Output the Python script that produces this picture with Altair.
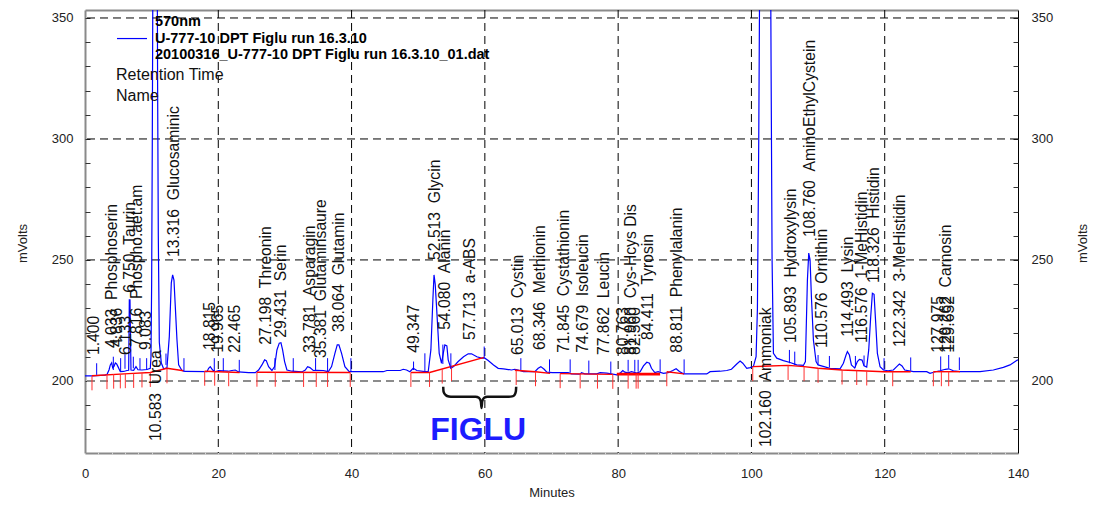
import altair as alt
import pandas as pd

# ---------------- data ----------------
trace_t = [0.0, 1.0, 1.7, 3.0, 3.3, 3.6, 3.8, 4.0, 4.15, 4.35, 4.55, 4.75, 4.95, 5.3, 5.8, 6.3, 6.55,
           6.65, 6.75, 6.9, 7.3, 7.65, 7.95, 8.55, 9.3, 9.8, 9.9, 10.0, 10.1, 10.2, 10.583, 10.8,
           10.9, 11.0, 11.15, 11.45, 11.8, 12.3, 12.65, 12.95, 13.15, 13.35, 13.55, 13.8, 14.05,
           14.55, 15.0, 18.3, 18.55, 18.8, 19.15, 19.55, 20.05, 21.5, 22.05, 22.55, 23.05, 24.55,
           25.55, 26.05, 26.55, 26.95, 27.2, 27.55, 28.05, 28.45, 28.8, 29.15, 29.4, 29.65, 29.95,
           30.3, 31.05, 32.55, 33.05, 33.4, 33.75, 34.25, 34.75, 35.75, 36.5, 37.0, 37.5, 37.85,
           38.1, 38.5, 39.0, 39.65, 44.75, 45.3, 47.3, 47.75, 48.25, 48.75, 49.25, 49.8, 51.0,
           51.5, 51.9, 52.2, 52.37, 52.55, 52.75, 53.15, 53.5, 53.8, 54.0, 54.3, 54.5, 54.9, 55.3,
           56.0, 56.8, 57.5, 58.0, 58.8, 59.5, 60.0, 60.5, 61.3, 62.0, 62.8, 64.0, 64.5, 65.0,
           65.8, 67.5, 68.0, 68.4, 68.9, 69.3, 70.1, 72.5, 73.0, 74.3, 74.5, 75.0, 76.8, 77.3,
           78.3, 79.8, 80.3, 80.7, 81.0, 81.5, 82.0, 82.8, 83.3, 83.8, 84.3, 84.7, 85.0, 85.5,
           86.0, 86.8, 87.5, 88.2, 88.7, 89.2, 89.8, 93.3, 93.8, 95.3, 96.3, 97.0, 97.8, 98.3,
           98.7, 99.3, 99.8, 100.3, 100.7, 100.9, 101.1, 101.3, 102.16, 102.8, 102.95, 103.1,
           103.3, 103.8, 104.8, 105.8, 106.8, 107.8, 108.1, 108.4, 108.6, 108.8, 109.0, 109.3,
           109.7, 110.0, 110.5, 111.8, 113.3, 113.8, 114.2, 114.4, 114.7, 115.0, 115.5, 115.9,
           116.2, 116.6, 116.9, 117.3, 117.6, 117.9, 118.15, 118.4, 118.65, 118.9, 119.3, 119.8,
           120.5, 121.3, 121.8, 122.2, 122.6, 123.0, 124.3, 126.3, 126.8, 127.6, 128.3, 129.1,
           129.6, 130.3, 131.3, 134.3, 136.3, 137.8, 138.8, 139.8, 140.0]
trace_v = [202.1, 202.1, 202.2, 202.4, 202.6, 204.5, 206.6, 207.5, 205.4, 206.0, 207.4, 207.0, 205.9,
           203.8, 203.9, 204.3, 204.4, 233.5, 233.5, 204.5, 204.4, 205.9, 204.6, 204.5, 204.7, 205.2,
           210.0, 240.0, 300.0, 380.0, 480.0, 400.0, 320.0, 260.0, 216.0, 207.4, 205.0, 205.4, 218.3,
           240.5, 243.8, 241.7, 230.7, 217.0, 206.6, 204.3, 203.9, 203.8, 205.2, 205.9, 204.5, 203.8,
           204.3, 204.0, 204.3, 204.5, 203.7, 203.4, 203.4, 204.5, 206.6, 208.7, 208.4, 205.9, 204.3,
           205.9, 212.8, 215.6, 215.8, 212.8, 208.0, 204.5, 204.0, 203.7, 204.5, 205.9, 205.5, 204.3,
           204.4, 204.3, 203.8, 205.9, 211.4, 214.9, 214.9, 211.4, 205.9, 203.8, 203.8, 204.3, 204.3,
           204.8, 204.5, 203.8, 205.2, 204.3, 203.8, 203.8, 212.8, 233.5, 243.8, 240.0, 230.7, 211.4,
           207.3, 212.0, 214.9, 214.5, 208.7, 205.2, 205.9, 208.0, 210.0, 211.2, 211.2, 210.0, 209.4,
           209.4, 208.4, 206.6, 205.2, 205.0, 204.5, 204.8, 204.5, 203.8, 203.8, 205.2, 205.9, 204.8,
           203.6, 203.4, 203.4, 202.9, 202.8, 203.4, 202.9, 202.9, 203.4, 203.2, 202.5, 203.2, 204.3,
           203.6, 203.3, 203.8, 203.2, 203.8, 206.2, 207.7, 207.3, 205.2, 203.4, 203.8, 203.1, 203.4,
           204.3, 205.0, 203.9, 202.9, 202.9, 203.8, 204.0, 204.3, 204.8, 207.0, 208.2, 207.3, 205.2,
           205.5, 206.0, 210.0, 230.0, 300.0, 400.0, 520.0, 420.0, 330.0, 250.0, 211.4, 209.4, 208.4,
           207.6, 206.6, 206.4, 208.0, 241.7, 252.8, 250.0, 234.8, 216.9, 208.0, 206.6, 206.2, 205.2,
           205.0, 207.3, 210.7, 212.1, 210.7, 206.6, 205.3, 208.0, 208.9, 208.6, 206.2, 205.7, 212.8,
           226.6, 236.2, 235.8, 223.8, 211.4, 205.9, 204.5, 204.2, 204.5, 205.9, 207.0, 206.2, 204.5,
           203.8, 203.8, 203.1, 203.8, 204.2, 204.8, 205.0, 204.2, 203.8, 203.8, 204.5, 205.6, 206.6,
           208.4, 208.7]

# red integration baselines (segment id, time, value)
base_s = [1, 1, 1, 1, 1, 2, 2, 3, 3, 4, 4, 4, 5, 5, 5, 6, 6, 7, 7, 8, 8,
          9, 9, 9, 9, 9, 9, 9, 9, 9, 10, 10]
base_t = [1.05, 6.55, 9.8, 12.3, 14.8, 17.96, 23.2, 25.8, 39.8, 48.9, 51.7, 59.9, 64.5, 67.6, 69.8,
          71.3, 79.2, 79.8, 86.3, 87.3, 89.9,
          100.2, 105.5, 107.9, 110.0, 113.6, 117.3, 119.9, 121.2, 123.9, 127.3, 131.3]
base_v = [202.1, 203.0, 203.5, 205.2, 204.2, 204.0, 203.5, 203.6, 203.5, 203.5, 203.5, 209.7, 204.4,
          203.8, 203.1, 203.0, 202.7, 202.8, 202.8, 203.8, 202.9,
          205.9, 206.4, 205.9, 205.2, 204.5, 204.1, 203.8, 203.8, 203.8, 203.8, 203.8]

# red peak-start/stop markers (time, baseline value)
rtick_t = [1.05, 3.3, 4.3, 5.3, 6.05, 7.3, 8.55, 9.8, 12.3, 17.96, 19.46, 21.56, 25.8, 28.55, 32.8,
           34.7, 36.4, 39.8, 48.9, 51.7, 53.6, 55.0, 64.7, 67.6, 71.3, 74.3, 76.9, 79.2, 81.5, 82.7,
           83.0, 87.3, 100.2, 105.5, 107.9, 110.0, 113.6, 115.8, 117.3, 121.2, 127.3, 128.5, 129.6]
rtick_v = [202.1, 202.6, 202.8, 202.9, 203.0, 203.1, 203.3, 203.5, 205.0, 204.0, 204.0, 203.8, 203.6,
           203.6, 203.5, 203.5, 203.5, 203.5, 203.5, 203.5, 204.9, 205.9, 204.3, 203.8, 203.0, 202.9,
           202.8, 202.7, 202.8, 202.8, 202.8, 203.8, 205.9, 206.4, 205.9, 205.2, 204.5, 204.3, 204.1,
           203.8, 203.8, 203.8, 203.8]

# blue peak-end markers (time, low, high)
btick_t = [1.75, 4.25, 5.35, 6.0, 7.25, 8.25, 9.25, 12.15, 14.85, 19.4, 20.75, 23.15, 28.5, 31.25,
           34.6, 36.4, 39.9, 49.3, 51.0, 53.7, 54.9, 59.9, 65.4, 69.7, 72.8, 75.6, 78.9, 81.5, 82.5,
           83.0, 86.3, 89.9, 105.7, 106.5, 110.0, 111.7, 115.6, 116.9, 119.9, 123.9, 128.4, 129.6,
           131.2]
btick_lo = [202.5, 204.5, 203.8, 205.0, 205.2, 204.5, 204.5, 206.6, 203.8, 204.0, 204.0, 203.8, 204.5,
            204.0, 204.3, 204.0, 203.8, 204.5, 203.8, 207.0, 205.2, 209.4, 204.5, 203.8, 203.4, 203.1,
            203.1, 203.8, 203.8, 203.8, 203.8, 203.1, 207.3, 206.6, 206.6, 205.6, 205.6, 206.2, 204.5,
            204.2, 204.5, 205.2, 204.5]
btick_hi = [207.3, 210.0, 209.4, 211.0, 210.0, 209.4, 209.4, 211.3, 209.4, 209.4, 209.4, 208.7, 209.4,
            209.4, 209.4, 209.4, 209.4, 208.0, 211.4, 215.0, 211.4, 214.2, 209.4, 208.9, 208.9, 208.4,
            208.0, 208.7, 208.7, 208.7, 208.9, 208.9, 212.8, 212.1, 210.7, 210.3, 210.3, 210.5, 209.4,
            209.7, 210.1, 210.7, 209.7]

# peak annotations
lab_rt = ["1.400", "4.033", "4.836", "6.133", "6.750", "7.816", "9.083", "10.583", "13.316",
          "18.815", "19.965", "22.465", "27.198", "29.431", "33.781", "35.381", "38.064", "49.347",
          "52.513", "54.080", "57.713", "65.013", "68.346", "71.845", "74.679", "77.862", "80.763",
          "81.960", "82.560", "84.411", "88.811", "102.160", "105.893", "108.760", "110.576",
          "114.493", "116.576", "118.326", "122.342", "127.975", "129.262", "129.652"]
lab_name = ["", "Phosphoserin", "", "", "Taurin", "Phospho.aet.am", "", "Urea", "Glucosaminic",
            "", "", "", "Threonin", "Serin", "Asparagin", "Glutaminsaure", "Glutamin", "",
            "Glycin", "Alanin", "a-ABS", "Cystin", "Methionin", "Cystathionin", "Isoleucin", "Leucin",
            "", "Cys-Hcys Dis", "", "Tyrosin", "Phenylalanin", "Ammoniak", "Hydroxylysin",
            "AminoEthylCystein", "Ornithin", "Lysin", "1-MeHistidin", "Histidin", "3-MeHistidin",
            "", "Carnosin", ""]
lab_v = [210.7, 213.6, 214.0, 210.7, 236.4, 214.0, 212.8, 175.2, 251.2, 212.8, 211.6, 211.6, 214.9,
         217.8, 211.6, 209.5, 220.2, 211.6, 250.0, 221.1, 216.9, 210.7, 212.8, 211.6, 211.6, 210.7,
         210.7, 210.7, 210.7, 216.9, 211.6, 172.7, 215.7, 259.5, 213.6, 218.2, 215.7, 240.5, 214.0,
         211.6, 211.6, 211.6]

# header block
head_bold = ["570nm", "U-777-10 DPT Figlu run 16.3.10", "20100316_U-777-10 DPT Figlu run 16.3.10_01.dat"]
head_bold_t = [10.5, 10.5, 10.5]
head_bold_v = [348.3, 341.5, 334.7]
head_reg = ["Retention Time", "Name"]
head_reg_t = [4.65, 4.65]
head_reg_v = [326.4, 317.8]
legend_line_t = [4.8]
legend_line_t2 = [9.3]
legend_line_v = [341.5]

# FIGLU brace and caption
brace_t = [53.75, 53.8, 54.1, 54.6, 55.2, 58.6, 59.1, 59.4, 59.5, 59.6, 59.9, 60.4, 63.6, 64.1,
           64.45, 64.65, 64.7]
brace_v = [197.6, 195.6, 194.2, 193.6, 193.5, 193.5, 193.0, 191.5, 188.8, 191.5, 193.0, 193.5,
           193.5, 193.6, 194.2, 195.6, 197.6]
figlu_t = [59.0]
figlu_v = [175.6]

x_ticks = [0, 20, 40, 60, 80, 100, 120, 140]
y_ticks = [200, 250, 300, 350]
grid_x = [20, 40, 60, 80, 100, 120]
grid_y = [250, 300, 350]
grid_y_base = [200]
minor_y = list(range(180, 351, 10))
minor_x = list(range(0, 141, 2))

# ---------------- chart ----------------
W, H = 933, 443
FONT = "Liberation Sans"
GAP = "\u00a0\u00a0"
xs = alt.Scale(domain=[0, 140], nice=False, zero=False)
ys = alt.Scale(domain=[170.2, 353.3], nice=False, zero=False)

trace_df = pd.DataFrame({"t": trace_t, "v": trace_v})
base_df = pd.DataFrame({"s": base_s, "t": base_t, "v": base_v})
rt_df = pd.DataFrame({"t": rtick_t, "v": rtick_v})
bt_df = pd.DataFrame({"t": btick_t, "lo": btick_lo, "hi": btick_hi})
lab_df = pd.DataFrame({"t": [float(r) for r in lab_rt], "v": lab_v,
                       "txt": [r + (GAP + n if n else "") for r, n in zip(lab_rt, lab_name)]})


def xe(field="t", axis=None):
    return alt.X(f"{field}:Q", scale=xs, axis=axis)


def ye(field="v", axis=None):
    return alt.Y(f"{field}:Q", scale=ys, axis=axis)


vgrid = alt.Chart(pd.DataFrame({"g": grid_x})).mark_rule(
    color="#000000", strokeWidth=1, strokeDash=[8, 5]).encode(x=xe("g"))
hgrid = alt.Chart(pd.DataFrame({"g": grid_y})).mark_rule(
    color="#000000", strokeWidth=1, strokeDash=[8, 5]).encode(y=ye("g"))
hgrid0 = alt.Chart(pd.DataFrame({"g": grid_y_base})).mark_rule(
    color="#8c8c8c", strokeWidth=2, strokeDash=[8, 5]).encode(y=ye("g"))

common_lab = dict(labelFont=FONT, labelFontSize=13, labelColor="#222222", titleFont=FONT,
                  titleFontSize=13, titleFontWeight="normal", titleColor="#222222", grid=False)

trace = alt.Chart(trace_df).mark_line(color="#0000ff", strokeWidth=1.2, clip=True).encode(
    x=xe("t", alt.Axis(values=x_ticks, title="Minutes", ticks=False, tickSize=0,
                       domainColor="#8a8a8a", domainWidth=2, labelPadding=14, labelFlush=False,
                       titleX=W / 2, titleY=39, titleBaseline="middle", titleAlign="center",
                       **common_lab)),
    y=ye("v", alt.Axis(values=y_ticks, title="mVolts", ticks=False, tickSize=0,
                       domainColor="#8a8a8a", domainWidth=2, labelPadding=12,
                       titleAngle=270, titleX=-63, titleY=233, titleAlign="center",
                       titleBaseline="middle", **common_lab)),
)

right_axis = alt.Chart(trace_df).mark_line(opacity=0).encode(
    x=xe("t"),
    y=ye("v", alt.Axis(orient="right", values=y_ticks, title="mVolts", ticks=False, tickSize=0,
                       domainColor="#000000", domainWidth=1, labelPadding=13,
                       titleAngle=270, titleX=64, titleY=233, titleAlign="center",
                       titleBaseline="middle", **common_lab)),
)
top_axis = alt.Chart(trace_df).mark_line(opacity=0).encode(
    x=xe("t", alt.Axis(orient="top", labels=False, ticks=False, tickSize=0, title=None, grid=False,
                       domainColor="#8a8a8a", domainWidth=2)),
    y=ye("v"),
)
minor_left = alt.Chart(pd.DataFrame({"m": minor_y})).mark_rule(opacity=0).encode(
    y=ye("m", alt.Axis(orient="left", values=minor_y, labels=False, domain=False, tickSize=5,
                       tickColor="#333333", offset=-5, title=None, grid=False)))
minor_right = alt.Chart(pd.DataFrame({"m": minor_y})).mark_rule(opacity=0).encode(
    y=ye("m", alt.Axis(orient="right", values=minor_y, labels=False, domain=False, tickSize=5,
                       tickColor="#333333", offset=-5, title=None, grid=False)))
minor_bottom = alt.Chart(pd.DataFrame({"m": minor_x})).mark_rule(opacity=0).encode(
    x=xe("m", alt.Axis(orient="bottom", values=minor_x, labels=False, domain=False, tickSize=2,
                       tickColor="#d6d6d6", offset=-1, title=None, grid=False)))

baseline = alt.Chart(base_df).mark_line(color="#ff0000").encode(
    x=xe("t"), y=ye("v"), detail="s:N",
    strokeWidth=alt.condition(alt.datum.s == 7, alt.value(2.8), alt.value(1.4)))
red_ticks = alt.Chart(rt_df).transform_calculate(b="datum.v - 6").mark_rule(
    color="#ff3030", strokeWidth=1).encode(x=xe("t"), y=ye("v"), y2="b:Q")
blue_ticks = alt.Chart(bt_df).mark_rule(color="#0000ff", strokeWidth=1).encode(
    x=xe("t"), y=ye("lo"), y2="hi:Q")

labels = alt.Chart(lab_df).mark_text(angle=270, align="left", baseline="middle", font=FONT,
                                     fontSize=15.7, color="#111111").encode(
    x=xe("t"), y=ye("v"), text="txt:N")

hb = alt.Chart(pd.DataFrame({"t": head_bold_t, "v": head_bold_v, "txt": head_bold})).mark_text(
    align="left", baseline="middle", font=FONT, fontSize=14.5, fontWeight="bold", color="#000000"
).encode(x=xe("t"), y=ye("v"), text="txt:N")
hr = alt.Chart(pd.DataFrame({"t": head_reg_t, "v": head_reg_v, "txt": head_reg})).mark_text(
    align="left", baseline="middle", font=FONT, fontSize=16, color="#111111"
).encode(x=xe("t"), y=ye("v"), text="txt:N")
leg_line = alt.Chart(pd.DataFrame({"a": legend_line_t, "b": legend_line_t2, "v": legend_line_v})
                     ).mark_rule(color="#0000ff", strokeWidth=1.2).encode(
    x=xe("a"), x2="b:Q", y=ye("v"))

brace = alt.Chart(pd.DataFrame({"t": brace_t, "v": brace_v})).mark_line(
    color="#111111", strokeWidth=2.5, interpolate="monotone").encode(x=xe("t"), y=ye("v"))
figlu = alt.Chart(pd.DataFrame({"t": figlu_t, "v": figlu_v, "txt": ["FIGLU"]})).mark_text(
    align="center", baseline="alphabetic", font=FONT, fontSize=32,
    fontWeight="bold", color="#1c1cff").encode(x=xe("t"), y=ye("v"), text="txt:N")

chart = alt.layer(
    vgrid, hgrid, hgrid0, trace, baseline, red_ticks, blue_ticks, labels, hb, hr, leg_line,
    brace, figlu, right_axis, top_axis, minor_left, minor_right, minor_bottom
).resolve_scale(x="independent", y="independent").properties(
    width=W, height=H,
    autosize=alt.AutoSizeParams(type="none"),
    padding={"left": 77, "top": 2, "right": 73, "bottom": 46},
).configure_view(stroke=None)

chart.save("out.html", embed_options={"renderer": "svg", "actions": False})
